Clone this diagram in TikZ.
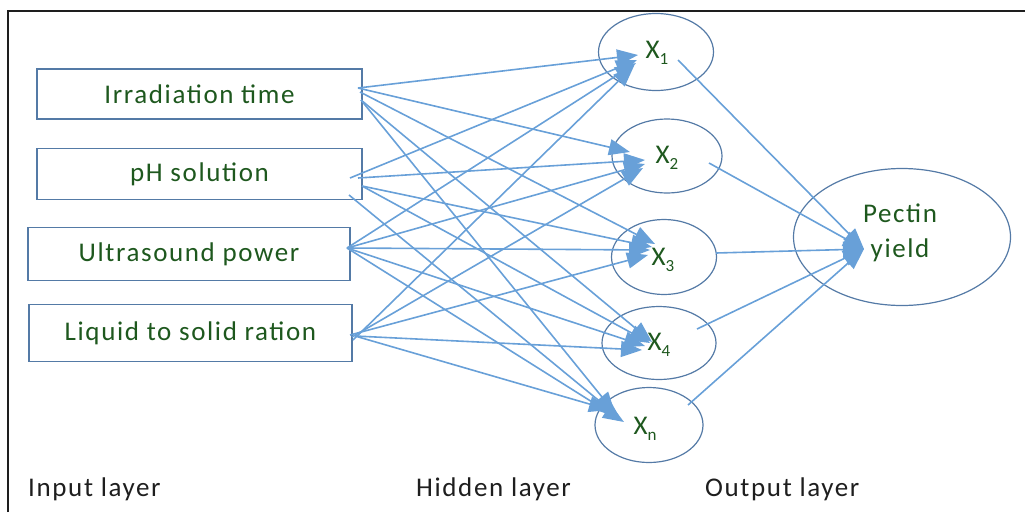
\documentclass[tikz,border=0pt]{standalone}
\usepackage{fontspec}
\setmainfont{Carlito}[LetterSpace=6]
\usetikzlibrary{arrows.meta,shapes.geometric}
\definecolor{linkblue}{RGB}{104,160,216}
\definecolor{edgeblue}{RGB}{84,122,166}
\definecolor{txtgreen}{RGB}{30,88,30}
\definecolor{labgray}{RGB}{30,30,30}
\tikzset{
  inbox/.style={draw=edgeblue, line width=1.3pt, rectangle, inner sep=0pt, text=txtgreen, font=\fontsize{27}{32}\selectfont},
  hid/.style={draw=edgeblue, line width=1.2pt, ellipse, inner sep=0pt, text=txtgreen, font=\fontsize{27}{32}\selectfont},
  link/.style={draw=linkblue, line width=1.6pt, -{Triangle[length=21pt,width=16pt]}},
  layerlab/.style={text=labgray, font=\fontsize{27}{32}\selectfont, anchor=west, inner sep=0pt},
}
\newcommand{\xsub}[1]{X\raisebox{-6pt}{\fontsize{17}{17}\selectfont #1}}
\begin{document}
\begin{tikzpicture}[x=1pt,y=-1pt]
\useasboundingbox (0,0) rectangle (1025,512);
\draw[line width=1.2pt, labgray] (8,512) -- (8,11) -- (1025,11);

% input boxes
\node[inbox, minimum width=325pt, minimum height=50pt] (b1) at (199.5,94) {Irradiation time};
\node[inbox, minimum width=325pt, minimum height=51pt] (b2) at (199.5,174) {pH solution};
\node[inbox, minimum width=322pt, minimum height=53pt] (b3) at (189,254) {Ultrasound power};
\node[inbox, minimum width=323pt, minimum height=57pt] (b4) at (190.5,333) {Liquid to solid ration};

% hidden nodes
\node[hid, minimum width=115pt, minimum height=77pt] (h1) at (656,52) {};
\node[hid, minimum width=110pt, minimum height=74pt] (h2) at (667,156) {};
\node[hid, minimum width=105pt, minimum height=75pt] (h3) at (664,257) {};
\node[hid, minimum width=114pt, minimum height=73pt] (h4) at (659,343) {};
\node[hid, minimum width=108pt, minimum height=75pt] (h5) at (649,425) {};

% output node
\node[hid, minimum width=217pt, minimum height=137pt] (out) at (902,237) {};

% source points
\coordinate (s1a) at (358,88);
\coordinate (s1b) at (360,92);
\coordinate (s1c) at (361,100);
\coordinate (s2a) at (350,178);
\coordinate (s2b) at (358,178);
\coordinate (s2c) at (362,186);
\coordinate (s2d) at (349,195);
\coordinate (s3) at (347,248);
\coordinate (s4a) at (353,340);
\coordinate (s4b) at (352,337);
\coordinate (s4c) at (350,335);
\coordinate (s4d) at (355,336);

% tips
\coordinate (t11) at (638,55); \coordinate (t21) at (637,60); \coordinate (t31) at (636,63); \coordinate (t41) at (634,66);
\coordinate (t12) at (630,152); \coordinate (t22) at (645,160); \coordinate (t32) at (645,164); \coordinate (t42) at (643,168);
\coordinate (t13) at (655,244); \coordinate (t23) at (652,247); \coordinate (t33) at (650,250); \coordinate (t43) at (648,255);
\coordinate (t14) at (652,342); \coordinate (t24) at (650,343); \coordinate (t34) at (645,346); \coordinate (t44) at (642,350);
\coordinate (t15) at (615,413); \coordinate (t25) at (620,418); \coordinate (t35) at (624,422); \coordinate (t45) at (610,410);

\draw[link] (s1a) -- (t11);
\draw[link] (s1a) -- (t12);
\draw[link] (s1b) -- (t13);
\draw[link] (s1c) -- (t14);
\draw[link] (s1c) -- (t15);
\draw[link] (s2a) -- (t21);
\draw[link] (s2b) -- (t22);
\draw[link] (s2c) -- (t23);
\draw[link] (s2c) -- (t24);
\draw[link] (s2d) -- (t25);
\draw[link] (s3) -- (t31);
\draw[link] (s3) -- (t32);
\draw[link] (s3) -- (t33);
\draw[link] (s3) -- (t34);
\draw[link] (s3) -- (t35);
\draw[link] (s4a) -- (t41);
\draw[link] (s4b) -- (t42);
\draw[link] (s4c) -- (t43);
\draw[link] (s4d) -- (t44);
\draw[link] (s4d) -- (t45);

% hidden labels
\node[text=txtgreen, font=\fontsize{27}{32}\selectfont, inner sep=0pt] (l1) at (657,53) {\xsub{1}};
\node[text=txtgreen, font=\fontsize{27}{32}\selectfont, inner sep=0pt] (l2) at (667,158) {\xsub{2}};
\node[text=txtgreen, font=\fontsize{27}{32}\selectfont, inner sep=0pt] (l3) at (663,260) {\xsub{3}};
\node[text=txtgreen, font=\fontsize{27}{32}\selectfont, inner sep=0pt] (l4) at (659,345) {\xsub{4}};
\node[text=txtgreen, font=\fontsize{27}{32}\selectfont, inner sep=0pt] (l5) at (645,429) {\xsub{n}};

% output connectors
\coordinate (o1) at (678,60);
\coordinate (o2) at (709,163);
\coordinate (o3) at (716,253);
\coordinate (o4) at (697,329);
\coordinate (o5) at (688,405);
\coordinate (ot) at (864,249);
\draw[link] (o1) -- (ot);
\draw[link] (o2) -- (ot);
\draw[link] (o3) -- (ot);
\draw[link] (o4) -- (ot);
\draw[link] (o5) -- (ot);

\node[text=txtgreen, font=\fontsize{27}{35}\selectfont, align=center, inner sep=0pt] (pl) at (900,233) {Pectin\\yield};

% layer labels
\node[layerlab] (il) at (28,489) {Input layer};
\node[layerlab] (hl) at (416,489) {Hidden layer};
\node[layerlab] (ol) at (705,489) {Output layer};
\end{tikzpicture}
\end{document}
